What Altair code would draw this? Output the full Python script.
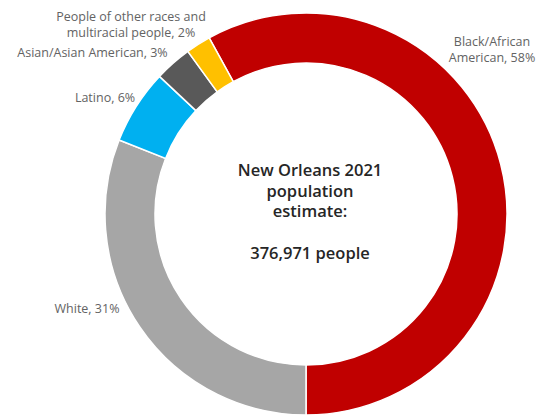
import math
import altair as alt
import pandas as pd

categories = ["Black/African American", "White", "Latino", "Asian/Asian American",
              "People of other races and multiracial people"]
shares = [58, 31, 6, 3, 2]
colors = ["#C00000", "#A6A6A6", "#00B0F0", "#595959", "#FFC000"]
order_idx = [0, 1, 2, 3, 4]

df = pd.DataFrame({"category": categories, "share": shares, "idx": order_idx})

# Black slice ends at the bottom (180 deg)
start = math.pi - 2 * math.pi * shares[0] / 100

FONT = "Open Sans"
LABEL_COLOR = "#636363"

arc = alt.Chart(df).mark_arc(outerRadius=201, innerRadius=151, stroke="white",
                             strokeWidth=1.5).encode(
    theta=alt.Theta("share:Q", stack=True,
                    scale=alt.Scale(range=[start, start + 2 * math.pi])),
    color=alt.Color("category:N", scale=alt.Scale(domain=categories, range=colors),
                    legend=None),
    order=alt.Order("idx:Q"),
    x=alt.value(298),
    y=alt.value(206),
)

one = pd.DataFrame({"k": [0]})


def label(text, x, y, size=12.5, color=LABEL_COLOR, weight="normal"):
    return alt.Chart(one).mark_text(
        align="center", baseline="alphabetic", font=FONT, fontSize=size,
        color=color, fontWeight=weight,
    ).encode(x=alt.value(x), y=alt.value(y), text=alt.value(text))


CENTER = dict(size=16.5, color="#262626", weight=600)

labels = [
    label("Black/African", 484, 38),
    label("American, 58%", 484, 53.7),
    label("People of other races and", 123, 12.7),
    label("multiracial people, 2%", 123, 29.2),
    label("Asian/Asian  American, 3%", 84.5, 49),
    label("Latino, 6%", 97, 94),
    label("White, 31%", 79, 305),
    label("New Orleans 2021", 302, 168, **CENTER),
    label("population", 302, 188.6, **CENTER),
    label("estimate:", 302, 209.2, **CENTER),
    label("376,971 people", 302, 251, **CENTER),
]

chart = alt.layer(arc, *labels).properties(
    width=532, height=410, padding=0, autosize="none"
).configure_view(stroke=None)

chart.save("out.html", embed_options={"renderer": "svg", "actions": False})
